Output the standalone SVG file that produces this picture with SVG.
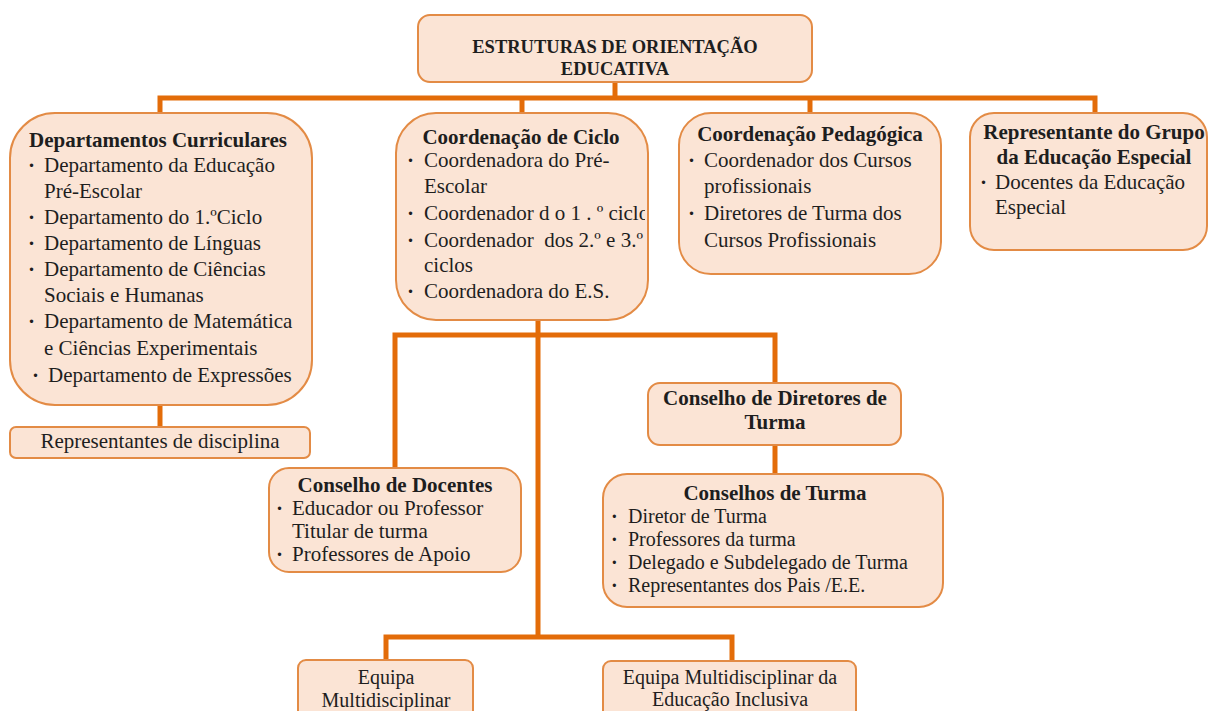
<svg xmlns="http://www.w3.org/2000/svg" width="1208" height="711" viewBox="0 0 1208 711">
<style>
.box{fill:#FBE4D5;stroke:#E38B45;stroke-width:2}
.con{fill:none;stroke:#E36C09;stroke-width:5}
text{font-family:"Liberation Serif","Times New Roman",serif;font-size:21px;fill:#1E1E1E}
.b{font-weight:bold}
.c{text-anchor:middle}
.top{font-size:18.5px;font-weight:bold}
.s{font-size:20px}
.d{font-weight:bold}
</style>
<defs>
<clipPath id="clipCiclo"><rect x="396" y="113" width="249" height="207"/></clipPath>
</defs>
<rect width="1208" height="711" fill="#FFFFFF"/>
<g id="connectors">
<path class="con" d="M615 82V98"/>
<path class="con" d="M160 115V98H1095V115"/>
<path class="con" d="M522 98V115"/>
<path class="con" d="M810 98V115"/>
<path class="con" d="M160 404V428"/>
<path class="con" d="M538 318V637"/>
<path class="con" d="M395 469V335H775V385"/>
<path class="con" d="M775 444V476"/>
<path class="con" d="M386 662V637H732V663"/>
</g>
<g id="node-top">
<rect class="box" x="418" y="15" width="394" height="67" rx="12"/>
<text class="top c" x="615" y="53">ESTRUTURAS DE ORIENTAÇÃO</text>
<text class="top c" x="615" y="75">EDUCATIVA</text>
</g>
<g id="node-departamentos">
<rect class="box" x="10" y="113" width="302" height="292" rx="45"/>
<text class="b c" x="158" y="147">Departamentos Curriculares</text>
<text class="d" x="28" y="172">·</text><text x="44" y="172">Departamento da Educação</text>
<text x="44" y="198">Pré-Escolar</text>
<text class="d" x="28" y="224">·</text><text x="44" y="224">Departamento do 1.ºCiclo</text>
<text class="d" x="28" y="250">·</text><text x="44" y="250">Departamento de Línguas</text>
<text class="d" x="28" y="276">·</text><text x="44" y="276">Departamento de Ciências</text>
<text x="44" y="302">Sociais e Humanas</text>
<text class="d" x="28" y="328">·</text><text x="44" y="328">Departamento de Matemática</text>
<text x="44" y="355">e Ciências Experimentais</text>
<text class="d" x="32" y="382">·</text><text x="48" y="382">Departamento de Expressões</text>
</g>
<g id="node-representantes-disciplina">
<rect class="box" x="10" y="427" width="300" height="31" rx="6"/>
<text class="c" x="160" y="448">Representantes de disciplina</text>
</g>
<g id="node-coordenacao-ciclo">
<rect class="box" x="396" y="113" width="252" height="207" rx="40"/>
<g clip-path="url(#clipCiclo)">
<text class="b c" x="521" y="144">Coordenação de Ciclo</text>
<text class="d" x="407" y="167">·</text><text x="424" y="167">Coordenadora do Pré-</text>
<text x="424" y="193">Escolar</text>
<text class="d" x="407" y="220">·</text><text x="424" y="220">Coordenador d o 1 . º ciclo</text>
<text class="d" x="407" y="247">·</text><text x="424" y="247" xml:space="preserve">Coordenador  dos 2.º e 3.º</text>
<text x="424" y="272">ciclos</text>
<text class="d" x="407" y="298">·</text><text x="424" y="298">Coordenadora do E.S.</text>
</g>
</g>
<g id="node-coordenacao-pedagogica">
<rect class="box" x="679" y="113" width="262" height="161" rx="32"/>
<text class="b c" x="810" y="141">Coordenação Pedagógica</text>
<text class="d" x="688" y="167">·</text><text x="704" y="167">Coordenador dos Cursos</text>
<text x="704" y="193">profissionais</text>
<text class="d" x="688" y="220">·</text><text x="704" y="220">Diretores de Turma dos</text>
<text x="704" y="247">Cursos Profissionais</text>
</g>
<g id="node-representante-grupo">
<rect class="box" x="970" y="113" width="237" height="137" rx="24"/>
<text class="b c" x="1094" y="139">Representante do Grupo</text>
<text class="b c" x="1094" y="164">da Educação Especial</text>
<text class="d" x="980" y="189">·</text><text x="995" y="189">Docentes da Educação</text>
<text x="995" y="214">Especial</text>
</g>
<g id="node-conselho-diretores">
<rect class="box" x="648" y="383" width="253" height="62" rx="12"/>
<text class="b c" x="775" y="405">Conselho de Diretores de</text>
<text class="b c" x="775" y="429">Turma</text>
</g>
<g id="node-conselhos-turma">
<rect class="box" x="603" y="474" width="340" height="133" rx="24"/>
<text class="b c" x="775" y="500">Conselhos de Turma</text>
<text class="s d" x="611" y="523">·</text><text class="s" x="628" y="523">Diretor de Turma</text>
<text class="s d" x="611" y="546">·</text><text class="s" x="628" y="546">Professores da turma</text>
<text class="s d" x="611" y="569">·</text><text class="s" x="628" y="569">Delegado e Subdelegado de Turma</text>
<text class="s d" x="611" y="592">·</text><text class="s" x="628" y="592">Representantes dos Pais /E.E.</text>
</g>
<g id="node-conselho-docentes">
<rect class="box" x="269" y="468" width="252" height="104" rx="20"/>
<text class="b c" x="395" y="492">Conselho de Docentes</text>
<text class="d" x="276" y="515">·</text><text x="292" y="515">Educador ou Professor</text>
<text x="292" y="538">Titular de turma</text>
<text class="d" x="276" y="561">·</text><text x="292" y="561">Professores de Apoio</text>
</g>
<g id="node-equipa">
<rect class="box" x="298" y="660" width="175" height="60" rx="8"/>
<text class="c s" x="386" y="684">Equipa</text>
<text class="c s" x="386" y="707">Multidisciplinar</text>
</g>
<g id="node-equipa-inclusiva">
<rect class="box" x="603" y="661" width="253" height="60" rx="8"/>
<text class="c s" x="730" y="684">Equipa Multidisciplinar da</text>
<text class="c s" x="730" y="706">Educação Inclusiva</text>
</g>
</svg>
